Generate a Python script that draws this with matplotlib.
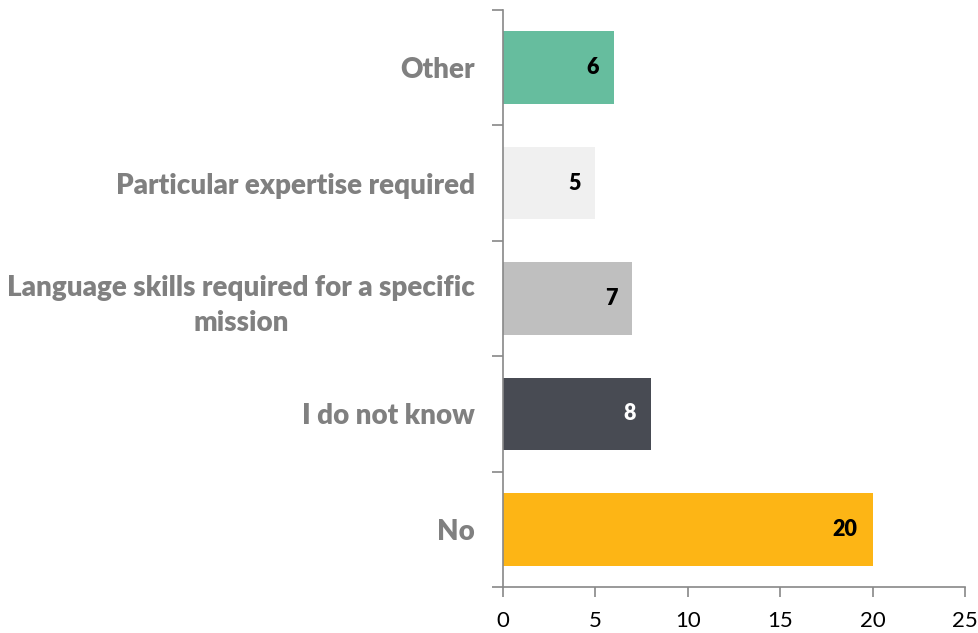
import matplotlib
matplotlib.use("Agg")
import matplotlib.pyplot as plt

categories = ["No", "I do not know", "Language skills required for a specific\nmission",
              "Particular expertise required", "Other"]
values = [20, 8, 7, 5, 6]
colors = ["#FDB515", "#484B53", "#BFBFBF", "#F0F0F0", "#66BD9E"]
label_colors = ["black", "white", "black", "black", "black"]
xticks = [0, 5, 10, 15, 20, 25]

plt.rcParams['font.family'] = ['Lato', 'DejaVu Sans']

fig = plt.figure(figsize=(9.79, 6.33), dpi=100)
ax = fig.add_axes([503/979, 1-587/633, (965-503)/979, (587-10)/633])

y = list(range(len(categories)))
ax.barh(y, values, height=0.63, color=colors, zorder=2)

for yi, v, lc in zip(y, values, label_colors):
    ax.annotate(str(v), xy=(v, yi), xytext=(-15, 0), textcoords='offset pixels',
                ha='right', va='center', fontsize=15.5, fontweight='heavy', color=lc)

ax.set_xlim(0, 25)
ax.set_ylim(-0.5, len(categories) - 0.5)
ax.set_xticks(xticks)
ax.set_xticklabels([str(t) for t in xticks], fontsize=16, color='black')

ax.set_yticks([i - 0.5 for i in range(len(categories) + 1)])
ax.set_yticklabels([])
ax.set_yticks(y, minor=True)
ax.set_yticklabels(categories, minor=True, fontsize=20, fontweight='heavy',
                   color='#808080', multialignment='center', linespacing=1.45)

ax.tick_params(axis='y', which='major', length=8, color='#888888', width=1.2)
ax.tick_params(axis='y', which='minor', length=0, pad=20)
ax.tick_params(axis='x', which='major', length=7, color='#888888', width=1.2, pad=10)

for s in ['top', 'right']:
    ax.spines[s].set_visible(False)
for s in ['left', 'bottom']:
    ax.spines[s].set_color('#888888')
    ax.spines[s].set_linewidth(1.2)

fig.savefig("out.png", dpi=100)
